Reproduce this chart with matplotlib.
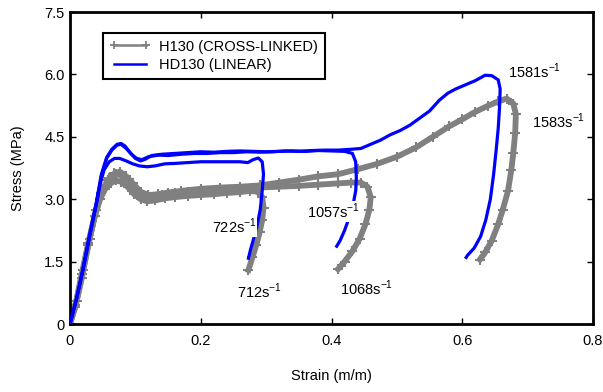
import numpy as np
from matplotlib import pyplot as plt
from matplotlib.lines import Line2D

plt.rcParams['font.family'] = ['Liberation Sans', 'DejaVu Sans']

# -------------------------------------------------------------------
# H130 (cross-linked), grey curves
g712_strain = [0, 0.008, 0.018, 0.028, 0.038, 0.046, 0.054, 0.062, 0.070, 0.078, 0.088, 0.098,
               0.108, 0.118, 0.13, 0.145, 0.16, 0.18, 0.2, 0.22, 0.24, 0.26, 0.275, 0.287,
               0.294, 0.296, 0.294, 0.29, 0.285, 0.279, 0.273]
g712_stress = [0, 0.45, 1.2, 1.95, 2.6, 3.0, 3.25, 3.38, 3.45, 3.42, 3.3, 3.12,
               3.0, 2.95, 2.97, 3.02, 3.05, 3.08, 3.1, 3.12, 3.15, 3.17, 3.2, 3.18,
               3.05, 2.8, 2.5, 2.2, 1.9, 1.6, 1.3]

g1068_strain = [0, 0.01, 0.02, 0.03, 0.04, 0.05, 0.06, 0.07, 0.08, 0.09, 0.10, 0.11, 0.12,
                0.14, 0.16, 0.18, 0.2, 0.23, 0.26, 0.29, 0.32, 0.35, 0.38, 0.41, 0.43, 0.445,
                0.455, 0.46, 0.458, 0.452, 0.443, 0.432, 0.42, 0.41]
g1068_stress = [0, 0.55, 1.3, 2.05, 2.75, 3.25, 3.5, 3.6, 3.57, 3.45, 3.25, 3.1, 3.05,
                3.1, 3.15, 3.18, 3.2, 3.22, 3.25, 3.28, 3.3, 3.32, 3.35, 3.38, 3.4, 3.4,
                3.3, 3.05, 2.75, 2.4, 2.05, 1.75, 1.5, 1.32]

g1583_strain = [0, 0.008, 0.018, 0.028, 0.038, 0.048, 0.058, 0.068, 0.076, 0.086, 0.096, 0.108,
                0.12, 0.135, 0.15, 0.17, 0.2, 0.23, 0.26, 0.29, 0.32, 0.35, 0.38, 0.41, 0.44,
                0.47, 0.50, 0.53, 0.555, 0.58, 0.60, 0.62, 0.64, 0.655, 0.668, 0.678, 0.682,
                0.681, 0.678, 0.675, 0.67, 0.662, 0.655, 0.645, 0.635, 0.627]
g1583_stress = [0, 0.4, 1.1, 1.9, 2.6, 3.15, 3.45, 3.62, 3.66, 3.55, 3.38, 3.18,
                3.1, 3.12, 3.16, 3.2, 3.25, 3.28, 3.3, 3.33, 3.4, 3.47, 3.55, 3.6, 3.72,
                3.85, 4.02, 4.25, 4.5, 4.75, 4.92, 5.1, 5.25, 5.35, 5.42, 5.3, 5.05,
                4.6, 4.1, 3.7, 3.2, 2.75, 2.4, 2.0, 1.72, 1.55]

# HD130 (linear), blue curves
b722_strain = [0, 0.01, 0.02, 0.03, 0.04, 0.046, 0.052, 0.06, 0.068, 0.076, 0.086, 0.096,
               0.106, 0.118, 0.13, 0.145, 0.16, 0.18, 0.2, 0.22, 0.24, 0.26, 0.272, 0.28,
               0.288, 0.294, 0.296, 0.294, 0.291, 0.286, 0.28, 0.276, 0.273]
b722_stress = [0, 0.6, 1.3, 2.1, 2.85, 3.35, 3.7, 3.9, 3.98, 3.98, 3.92, 3.85,
               3.8, 3.78, 3.8, 3.85, 3.86, 3.88, 3.9, 3.9, 3.9, 3.9, 3.88, 3.95,
               3.99, 3.9, 3.6, 3.2, 2.75, 2.35, 2.0, 1.78, 1.58]

b1057_strain = [0, 0.01, 0.02, 0.03, 0.04, 0.048, 0.056, 0.064, 0.072, 0.078, 0.084, 0.092,
                0.1, 0.108, 0.115, 0.125, 0.14, 0.16, 0.18, 0.2, 0.22, 0.24, 0.26, 0.28, 0.3,
                0.32, 0.34, 0.36, 0.38, 0.4, 0.42, 0.432, 0.437, 0.438, 0.437, 0.434, 0.428,
                0.42, 0.413, 0.408]
b1057_stress = [0, 0.62, 1.35, 2.15, 2.9, 3.6, 4.0, 4.2, 4.32, 4.34, 4.28, 4.12,
                3.98, 3.92, 3.96, 4.05, 4.08, 4.1, 4.12, 4.14, 4.13, 4.15, 4.16, 4.15, 4.14,
                4.15, 4.16, 4.15, 4.17, 4.16, 4.15, 4.1, 3.9, 3.5, 3.2, 2.95, 2.6,
                2.25, 2.0, 1.87]

b1581_strain = [0, 0.01, 0.02, 0.03, 0.04, 0.048, 0.056, 0.064, 0.072, 0.078, 0.086, 0.094,
                0.102, 0.11, 0.12, 0.135, 0.15, 0.17, 0.19, 0.21, 0.23, 0.25, 0.27, 0.29, 0.31,
                0.33, 0.35, 0.37, 0.39, 0.41, 0.43, 0.445, 0.46, 0.475, 0.49, 0.505, 0.52,
                0.535, 0.55, 0.565, 0.578, 0.59, 0.605, 0.62, 0.635, 0.645, 0.655, 0.658,
                0.657, 0.655, 0.652, 0.648, 0.643, 0.636, 0.628, 0.618, 0.608, 0.606]
b1581_stress = [0, 0.6, 1.32, 2.12, 2.88, 3.55, 3.98, 4.18, 4.3, 4.32, 4.22, 4.08,
                3.98, 3.95, 4.02, 4.06, 4.05, 4.08, 4.1, 4.1, 4.12, 4.12, 4.14, 4.13, 4.14,
                4.16, 4.15, 4.17, 4.18, 4.18, 4.2, 4.22, 4.32, 4.42, 4.55, 4.65, 4.78,
                4.95, 5.12, 5.38, 5.55, 5.65, 5.75, 5.85, 5.98, 5.97, 5.87, 5.65,
                5.2, 4.7, 4.2, 3.6, 3.0, 2.5, 2.1, 1.82, 1.65, 1.6]

# rate labels: (text, strain, stress)
rate_labels = [('722', 0.217, 2.34), ('712', 0.255, 0.78), ('1057', 0.363, 2.70),
               ('1068', 0.413, 0.86), ('1581', 0.670, 6.07), ('1583', 0.706, 4.86)]

xticks = [0, 0.2, 0.4, 0.6, 0.8]
xtick_labels = ['0', '0.2', '0.4', '0.6', '0.8']
yticks = [0, 1.5, 3.0, 4.5, 6.0, 7.5]
ytick_labels = ['0', '1.5', '3.0', '4.5', '6.0', '7.5']

# -------------------------------------------------------------------
grey = '#808080'
blue = '#0000ff'
fs = 10.5

fig = plt.figure(figsize=(6.03, 3.92), dpi=100)
ax = fig.add_axes([70 / 603, 68 / 392, 523 / 603, 312 / 392])

for s, t in [(g712_strain, g712_stress), (g1068_strain, g1068_stress), (g1583_strain, g1583_stress)]:
    ax.plot(s, t, color=grey, lw=4.2, marker='+', ms=7, mew=1.5, zorder=2)

for s, t in [(b722_strain, b722_stress), (b1057_strain, b1057_stress), (b1581_strain, b1581_stress)]:
    ax.plot(s, t, color=blue, lw=2.3, zorder=3)

for txt, x, y in rate_labels:
    ax.text(x, y, txt + r's$^{\mathregular{-1}}$', fontsize=fs, va='center', ha='left',
            zorder=4, bbox=dict(facecolor='white', edgecolor='none', pad=0.5))

ax.set_xlim(0, 0.8)
ax.set_ylim(0, 7.5)
ax.set_xticks(xticks)
ax.set_xticklabels(xtick_labels)
ax.set_yticks(yticks)
ax.set_yticklabels(ytick_labels)
ax.tick_params(direction='in', length=4, width=1, top=True, right=True, labelsize=fs)
ax.tick_params(axis='x', pad=7)
ax.tick_params(axis='y', pad=4)
for sp in ax.spines.values():
    sp.set_linewidth(2)

ax.set_xlabel('Strain (m/m)', fontsize=fs, va='center')
ax.xaxis.set_label_coords(0.5, -(376 - 324) / 312)
ax.set_ylabel('Stress (MPa)', fontsize=fs, va='center')
ax.yaxis.set_label_coords((18 - 70) / 523, 0.5)

handles = [Line2D([], [], color=grey, lw=1.8, marker='+', ms=6, mew=1.3),
           Line2D([], [], color=blue, lw=1.8)]
leg = ax.legend(handles, ['H130 (CROSS-LINKED)', 'HD130 (LINEAR)'], loc='upper left',
                bbox_to_anchor=((103 - 70) / 523, (324 - 33) / 312), borderaxespad=0,
                fontsize=fs, numpoints=2, handlelength=2.8, handletextpad=0.6,
                labelspacing=0.3, fancybox=False, framealpha=1, borderpad=0.45)
leg.get_frame().set_edgecolor('black')
leg.get_frame().set_linewidth(1.5)

fig.savefig('out.png', dpi=100)
